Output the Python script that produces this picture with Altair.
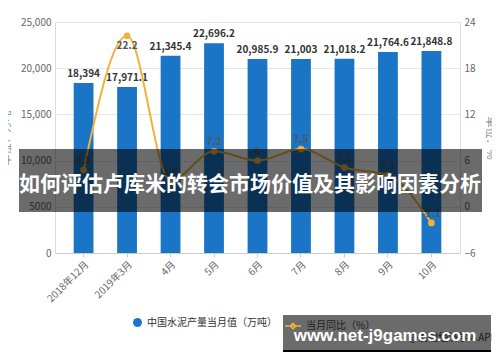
import altair as alt
import pandas as pd

months = ["2018年12月", "2019年3月", "4月", "5月", "6月", "7月", "8月", "9月", "10月"]
output = [18394, 17971.1, 21345.4, 22696.2, 20985.9, 21003, 21018.2, 21764.6, 21848.8]
yoy = [4.8, 22.2, 3.4, 7.2, 6, 7.5, 5.1, 4.1, -2.1]
bar_name = "中国水泥产量当月值（万吨）"
line_name = "当月同比（%）"
title_text = "如何评估卢库米的转会市场价值及其影响因素分析"
site_text = "www.net-j9games.com"
source_text = "@前瞻经济学人APP"
left_ticks = [0, 5000, 10000, 15000, 20000, 25000]
right_ticks = [-6, 0, 6, 12, 18, 24]

df = pd.DataFrame({
    "month": months,
    "output": output,
    "yoy": yoy,
    "out_label": [f"{v:,g}" for v in output],
    "yoy_label": [f"{v:g}" for v in yoy],
    "s1": bar_name,
    "s2": line_name,
})

FONT = "Noto Sans CJK SC"
BLUE = "#1a75c6"
GOLD = "#efb33a"

x = alt.X(
    "month:N", sort=months,
    scale=alt.Scale(paddingInner=0.545, paddingOuter=0.43),
    axis=alt.Axis(title=None, labelAngle=-45, labelAlign="right", labelBaseline="top",
                  labelFontSize=10, labelColor="#666", labelFont=FONT,
                  tickColor="#ccc", tickSize=4, domainColor="#ccc", labelPadding=2),
)

yL = alt.Y(
    "output:Q", scale=alt.Scale(domain=[0, 25000], nice=False),
    axis=alt.Axis(values=left_ticks,
                  labelExpr="datum.value >= 10000 ? format(datum.value, ',') : format(datum.value, 'd')",
                  title="单位：万吨", titleFont=FONT, titleFontSize=11, titleFontWeight="normal",
                  titleColor="#888", titlePadding=9,
                  grid=True, gridColor="#e6e6e6", domain=False, ticks=False,
                  labelPadding=4, labelFontSize=10, labelColor="#666", labelFont=FONT),
)

yR = alt.Y(
    "yoy:Q", scale=alt.Scale(domain=[-6, 24], nice=False),
    axis=alt.Axis(orient="right", values=right_ticks, title="单位：%", titleAngle=90,
                  titleFont=FONT, titleFontSize=11, titleFontWeight="normal",
                  titleColor="#888", titlePadding=9,
                  grid=False, domain=False, ticks=False,
                  labelPadding=4, labelFontSize=10, labelColor="#666", labelFont=FONT),
)

base = alt.Chart(df)

bars = base.mark_bar().encode(
    x=x, y=yL,
    color=alt.Color("s1:N", scale=alt.Scale(range=[BLUE]),
                    legend=alt.Legend(title=None, orient="none", legendX=77, legendY=295,
                                      symbolType="circle", symbolSize=80,
                                      labelFont=FONT, labelFontSize=10, labelColor="#333")),
)
bar_text = base.mark_text(baseline="bottom", dy=-4, fontWeight="bold", fontSize=10,
                          color="#333", font=FONT).encode(x=x, y=yL, text="out_label:N")

line = base.mark_line(interpolate="monotone", strokeWidth=2).encode(
    x=x, y=yR,
    stroke=alt.Stroke("s2:N", scale=alt.Scale(range=[GOLD]),
                      legend=alt.Legend(title=None, orient="none", legendX=229, legendY=295,
                                        symbolType="M-1,0H1M0,-0.35L0.35,0L0,0.35L-0.35,0Z",
                                        symbolSize=256, symbolStrokeWidth=1.5,
                                        symbolStrokeColor="#6b5120", symbolFillColor="#6b5120",
                                        labelFont=FONT, labelFontSize=10, labelColor="#1e1e1e")),
)
pts = base.mark_circle(size=45, opacity=1, color=GOLD).encode(x=x, y=yR)
pt_text_hi = base.transform_filter("datum.yoy > 20").mark_text(
    baseline="top", dy=5, fontWeight="bold", fontSize=10, color="#555", font=FONT
).encode(x=x, y=yR, text="yoy_label:N")
pt_text = base.transform_filter("datum.yoy <= 20").mark_text(
    baseline="bottom", dy=-4, fontWeight="bold", fontSize=10, color="#555", font=FONT
).encode(x=x, y=yR, text="yoy_label:N")

left = alt.layer(bars, bar_text)
right = alt.layer(line, pts, pt_text_hi, pt_text)
main = alt.layer(left, right).resolve_scale(y="independent", color="independent")

one = pd.DataFrame({"k": [0]})
band = alt.Chart(one).mark_rect(color="black", opacity=0.58).encode(
    x=alt.value(-36), x2=alt.value(427), y=alt.value(127), y2=alt.value(190))
band_text = alt.Chart(one).mark_text(
    text=title_text, font=FONT, fontSize=21, fontWeight="bold", color="white",
    align="center", baseline="middle").encode(x=alt.value(195), y=alt.value(163))
src = alt.Chart(one).mark_text(
    text=source_text, font=FONT, fontSize=10, color="#444", align="right",
    baseline="middle").encode(x=alt.value(442), y=alt.value(316))
box = alt.Chart(one).mark_rect(color="black", opacity=0.58).encode(
    x=alt.value(228), x2=alt.value(436), y=alt.value(293), y2=alt.value(328))
box_edge = alt.Chart(one).mark_rect(color="black").encode(
    x=alt.value(228), x2=alt.value(436), y=alt.value(328), y2=alt.value(330))
site = alt.Chart(one).mark_text(
    text=site_text, font="Liberation Sans", fontSize=17, fontWeight="bold", color="white",
    align="center", baseline="middle").encode(x=alt.value(330), y=alt.value(314))

chart = alt.layer(main, band, band_text, src, box, box_edge, site).properties(
    width=405, height=231,
    autosize=alt.AutoSizeParams(type="none"),
    padding={"left": 47, "top": 14, "right": 32, "bottom": 101},
).configure_view(stroke=None).configure(background="white")

chart.save("out.html", embed_options={"renderer": "svg", "actions": False})
